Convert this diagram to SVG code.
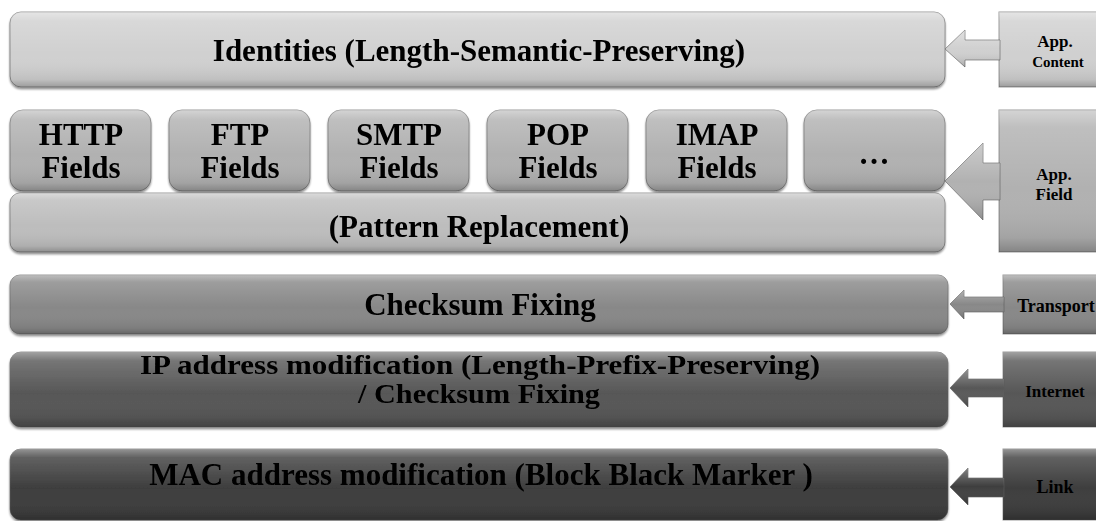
<svg xmlns="http://www.w3.org/2000/svg" width="1096" height="521" viewBox="0 0 1096 521">
  <defs>
    <!-- bevel sheen laid over every solid fill -->
    <linearGradient id="sheen" x1="0" y1="0" x2="0" y2="1">
      <stop offset="0" stop-color="#fff" stop-opacity="0.45"/>
      <stop offset="0.12" stop-color="#fff" stop-opacity="0.18"/>
      <stop offset="0.55" stop-color="#fff" stop-opacity="0"/>
      <stop offset="0.9" stop-color="#000" stop-opacity="0.08"/>
      <stop offset="1" stop-color="#000" stop-opacity="0.25"/>
    </linearGradient>
    <linearGradient id="arrowSheen" x1="0" y1="0" x2="0" y2="1">
      <stop offset="0" stop-color="#fff" stop-opacity="0.35"/>
      <stop offset="0.5" stop-color="#fff" stop-opacity="0"/>
      <stop offset="1" stop-color="#000" stop-opacity="0.2"/>
    </linearGradient>
    <filter id="drop" x="-5%" y="-10%" width="110%" height="130%">
      <feGaussianBlur in="SourceAlpha" stdDeviation="1.2"/>
      <feOffset dx="0" dy="1.5"/>
      <feComponentTransfer><feFuncA type="linear" slope="0.45"/></feComponentTransfer>
      <feMerge><feMergeNode/><feMergeNode in="SourceGraphic"/></feMerge>
    </filter>
  </defs>
  <style>
    .t { font-family: "Liberation Serif", "Times New Roman", serif; font-weight: bold; fill: #000; text-anchor: middle; }
    .big { font-size: 31px; }
    .mid { font-size: 31px; }
    .tight { font-size: 28px; }
    .small { font-size: 18px; }
    .edge { stroke: #5a5a5a; stroke-width: 1; stroke-opacity: 0.6; }
    .l1 { fill: #d0d0d0; }
    .l2 { fill: #b1b1b1; }
    .l2b { fill: #bdbdbd; }
    .l3 { fill: #888888; }
    .l4 { fill: #575757; }
    .l5 { fill: #3e3e3e; }
    .gloss { fill: url(#sheen); }
    .agloss { fill: url(#arrowSheen); }
  </style>

  <rect width="1096" height="521" fill="#fff"/>

  <!-- Application content layer -->
  <g id="identities" filter="url(#drop)">
    <rect class="l1 edge" x="10" y="12" width="935" height="75" rx="11"/>
    <rect class="gloss" x="10" y="12" width="935" height="75" rx="11"/>
    <text class="t big" x="479" y="61">Identities (Length-Semantic-Preserving)</text>
  </g>

  <!-- Application protocol field boxes -->
  <g id="http" filter="url(#drop)">
    <rect class="l2 edge" x="10" y="110" width="141" height="81" rx="13"/>
    <rect class="gloss" x="10" y="110" width="141" height="81" rx="13"/>
    <text class="t mid" x="81" y="145">HTTP</text>
    <text class="t mid" x="81" y="178">Fields</text>
  </g>
  <g id="ftp" filter="url(#drop)">
    <rect class="l2 edge" x="169" y="110" width="141" height="81" rx="13"/>
    <rect class="gloss" x="169" y="110" width="141" height="81" rx="13"/>
    <text class="t mid" x="240" y="145">FTP</text>
    <text class="t mid" x="240" y="178">Fields</text>
  </g>
  <g id="smtp" filter="url(#drop)">
    <rect class="l2 edge" x="328" y="110" width="141" height="81" rx="13"/>
    <rect class="gloss" x="328" y="110" width="141" height="81" rx="13"/>
    <text class="t mid" x="399" y="145">SMTP</text>
    <text class="t mid" x="399" y="178">Fields</text>
  </g>
  <g id="pop" filter="url(#drop)">
    <rect class="l2 edge" x="487" y="110" width="141" height="81" rx="13"/>
    <rect class="gloss" x="487" y="110" width="141" height="81" rx="13"/>
    <text class="t mid" x="558" y="145">POP</text>
    <text class="t mid" x="558" y="178">Fields</text>
  </g>
  <g id="imap" filter="url(#drop)">
    <rect class="l2 edge" x="646" y="110" width="141" height="81" rx="13"/>
    <rect class="gloss" x="646" y="110" width="141" height="81" rx="13"/>
    <text class="t mid" x="717" y="145">IMAP</text>
    <text class="t mid" x="717" y="178">Fields</text>
  </g>
  <g id="more" filter="url(#drop)">
    <rect class="l2 edge" x="804" y="110" width="141" height="81" rx="13"/>
    <rect class="gloss" x="804" y="110" width="141" height="81" rx="13"/>
    <text class="t mid" x="874" y="164">…</text>
  </g>
  <g id="pattern" filter="url(#drop)">
    <rect class="l2b edge" x="10" y="193" width="935" height="59" rx="10"/>
    <rect class="gloss" x="10" y="193" width="935" height="59" rx="10"/>
    <text class="t big" x="479" y="237">(Pattern Replacement)</text>
  </g>

  <!-- Transport layer -->
  <g id="checksum" filter="url(#drop)">
    <rect class="l3 edge" x="10" y="275" width="938" height="59" rx="10"/>
    <rect class="gloss" x="10" y="275" width="938" height="59" rx="10"/>
    <text class="t big" x="480" y="315">Checksum Fixing</text>
  </g>

  <!-- Internet layer -->
  <g id="ip" filter="url(#drop)">
    <rect class="l4 edge" x="10" y="352" width="938" height="75" rx="11"/>
    <rect class="gloss" x="10" y="352" width="938" height="75" rx="11"/>
    <text class="t tight" x="480" y="374" textLength="680" lengthAdjust="spacingAndGlyphs">IP address modification (Length-Prefix-Preserving)</text>
    <text class="t tight" x="479" y="403" textLength="242" lengthAdjust="spacingAndGlyphs">/ Checksum Fixing</text>
  </g>

  <!-- Link layer -->
  <g id="mac" filter="url(#drop)">
    <rect class="l5 edge" x="10" y="449" width="938" height="71" rx="11"/>
    <rect class="gloss" x="10" y="449" width="938" height="71" rx="11"/>
    <text class="t big" x="481" y="485">MAC address modification (Block Black Marker )</text>
  </g>

  <!-- Layer labels on the right -->
  <g id="lbl-content">
    <rect class="l1 edge" x="999" y="12" width="110" height="75"/>
    <rect class="gloss" x="999" y="12" width="110" height="75"/>
    <text class="t small" x="1055" y="47" style="font-size:17px">App.</text>
    <text class="t small" x="1058" y="67" style="font-size:15px">Content</text>
  </g>
  <g id="lbl-field">
    <rect class="l2 edge" x="999" y="110" width="110" height="142"/>
    <rect class="gloss" x="999" y="110" width="110" height="142"/>
    <text class="t small" x="1054" y="180" style="font-size:17px">App.</text>
    <text class="t small" x="1054" y="200" style="font-size:17px">Field</text>
  </g>
  <g id="lbl-transport">
    <rect class="l3 edge" x="1003" y="275" width="110" height="59"/>
    <rect class="gloss" x="1003" y="275" width="110" height="59"/>
    <text class="t small" x="1056" y="312">Transport</text>
  </g>
  <g id="lbl-internet">
    <rect class="l4 edge" x="1003" y="352" width="110" height="75"/>
    <rect class="gloss" x="1003" y="352" width="110" height="75"/>
    <text class="t small" x="1055" y="397" style="font-size:17px">Internet</text>
  </g>
  <g id="lbl-link">
    <rect class="l5 edge" x="1003" y="449" width="110" height="71"/>
    <rect class="gloss" x="1003" y="449" width="110" height="71"/>
    <text class="t small" x="1055" y="493">Link</text>
  </g>

  <!-- Block arrows from each label into its layer -->
  <g id="connectors">
    <polygon class="l1 edge" points="945,49 965,30 965,40 1000,40 1000,60 965,60 965,67"/>
    <polygon class="agloss" points="945,49 965,30 965,40 1000,40 1000,60 965,60 965,67"/>
    <polygon class="l2 edge" points="945,181 983,143 983,163 1000,163 1000,200 983,200 983,220"/>
    <polygon class="agloss" points="945,181 983,143 983,163 1000,163 1000,200 983,200 983,220"/>
    <polygon class="l3 edge" points="950,304 964,290 964,297 1004,297 1004,312 964,312 964,319"/>
    <polygon class="agloss" points="950,304 964,290 964,297 1004,297 1004,312 964,312 964,319"/>
    <polygon class="l4 edge" points="950,388 968,369 968,379 1004,379 1004,397 968,397 968,407"/>
    <polygon class="agloss" points="950,388 968,369 968,379 1004,379 1004,397 968,397 968,407"/>
    <polygon class="l5 edge" points="950,487 968,468 968,478 1004,478 1004,497 968,497 968,505"/>
    <polygon class="agloss" points="950,487 968,468 968,478 1004,478 1004,497 968,497 968,505"/>
  </g>
</svg>
